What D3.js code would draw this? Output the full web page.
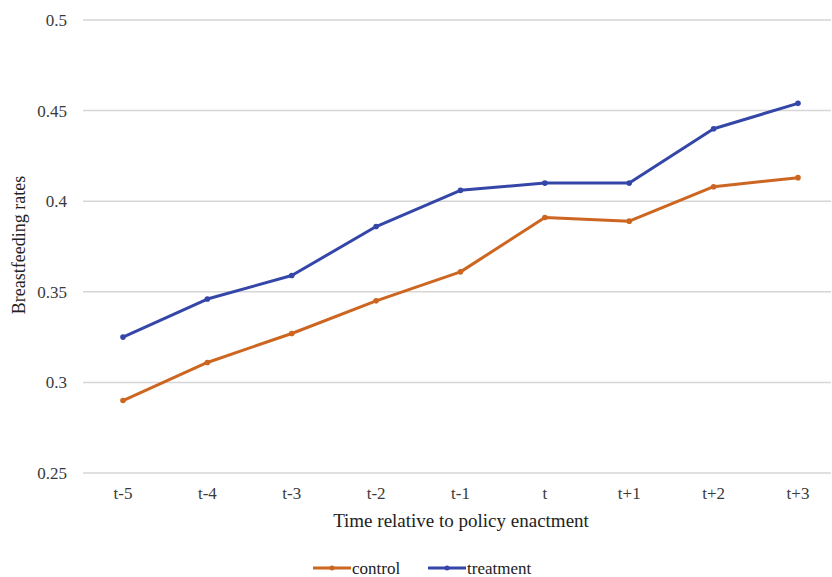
<!DOCTYPE html>
<html><head><meta charset="utf-8">
<script src="https://cdn.jsdelivr.net/npm/d3@7"></script>
<style>body{margin:0;background:#fff}svg{display:block}</style>
</head><body>
<svg id="chart" width="832" height="577"></svg>
<script>
const categories = ["t-5","t-4","t-3","t-2","t-1","t","t+1","t+2","t+3"];
const control   = [0.290, 0.311, 0.327, 0.345, 0.361, 0.391, 0.389, 0.408, 0.413];
const treatment = [0.325, 0.346, 0.359, 0.386, 0.406, 0.410, 0.410, 0.440, 0.454];
const yTicks = [0.25, 0.3, 0.35, 0.4, 0.45, 0.5];
const yTickLabels = ["0.25","0.3","0.35","0.4","0.45","0.5"];
const seriesNames = ["control","treatment"];
const colors = ["#cc6620","#3446a8"];

const svg = d3.select("#chart");
const font = "Liberation Serif, Times New Roman, serif";
const x = d3.scalePoint().domain(categories).range([123, 798]);
const y = d3.scaleLinear().domain([0.25, 0.5]).range([473, 20]);

// gridlines
svg.append("g").selectAll("line").data(yTicks).join("line")
  .attr("x1", 83).attr("x2", 831)
  .attr("y1", d => y(d)).attr("y2", d => y(d))
  .attr("stroke", "#d6d6d6").attr("stroke-width", 1.5);

// y tick labels
svg.append("g").selectAll("text").data(yTicks).join("text")
  .attr("x", 67).attr("y", d => y(d)).attr("dy", "0.35em")
  .attr("text-anchor", "end")
  .style("font-family", font).attr("font-size", 17).attr("fill", "#3a3a3a")
  .text((d, i) => yTickLabels[i]);

// x tick labels
svg.append("g").selectAll("text").data(categories).join("text")
  .attr("x", d => x(d)).attr("y", 499)
  .attr("text-anchor", "middle")
  .style("font-family", font).attr("font-size", 17).attr("fill", "#3a3a3a")
  .text(d => d);

// axis titles
svg.append("text").attr("x", 461).attr("y", 527).attr("text-anchor", "middle")
  .style("font-family", font).attr("font-size", 19).attr("fill", "#222")
  .text("Time relative to policy enactment");
svg.append("text").attr("transform", "translate(25,245) rotate(-90)")
  .attr("text-anchor", "middle")
  .style("font-family", font).attr("font-size", 18).attr("fill", "#222")
  .text("Breastfeeding rates");

// lines
const line = d3.line().x((d, i) => x(categories[i])).y(d => y(d));
[control, treatment].forEach((vals, k) => {
  svg.append("path").datum(vals).attr("d", line)
    .attr("fill", "none").attr("stroke", colors[k]).attr("stroke-width", 3)
    .attr("stroke-linejoin", "round");
  svg.append("g").selectAll("circle").data(vals).join("circle")
    .attr("cx", (d, i) => x(categories[i])).attr("cy", d => y(d)).attr("r", 2.8)
    .attr("fill", colors[k]);
});

// legend
const legX = [313, 428];
seriesNames.forEach((name, k) => {
  const g = svg.append("g").attr("transform", `translate(${legX[k]},568)`);
  g.append("line").attr("x1", 0).attr("x2", 38).attr("y1", 0).attr("y2", 0)
    .attr("stroke", colors[k]).attr("stroke-width", 3);
  g.append("circle").attr("cx", 19).attr("cy", 0).attr("r", 2.5).attr("fill", colors[k]);
  g.append("text").attr("x", 39).attr("y", 0).attr("dy", "0.35em")
    .style("font-family", font).attr("font-size", 17).attr("fill", "#222")
    .text(name);
});
</script>
</body></html>
